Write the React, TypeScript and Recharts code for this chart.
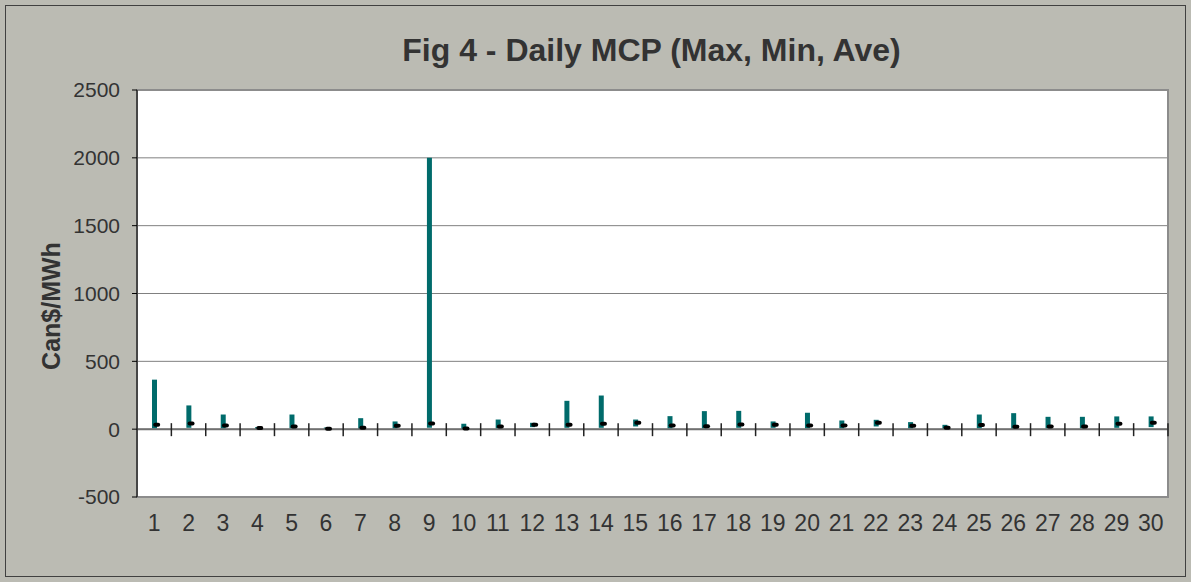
import React from 'react';
import { ComposedChart, Bar, Line, XAxis, YAxis, CartesianGrid, ReferenceLine, ReferenceArea } from 'recharts';

const days = ['1','2','3','4','5','6','7','8','9','10','11','12','13','14','15','16','17','18','19','20','21','22','23','24','25','26','27','28','29','30'];
const maxPrice = [365,175,108,15,108,12,81,57,2000,40,71,47,209,248,71,96,133,135,57,121,64,69,52,32,108,118,91,91,94,94];
const minPrice = [5,10,5,0,5,-5,0,5,10,-5,5,15,10,10,20,5,5,10,10,5,5,20,5,0,5,0,5,5,10,15];
const avePrice = [32,42,27,8,20,3,10,25,42,5,20,32,32,40,47,27,22,35,32,27,27,47,25,10,30,18,20,20,40,47];
const yTicks = [-500,0,500,1000,1500,2000,2500];

const data = days.map((d, i) => ({ day: d, range: [minPrice[i], maxPrice[i]], ave: avePrice[i] }));

const W = 1191;
const H = 582;
const FONT = 'Arial, "Liberation Sans", sans-serif';

const ZeroLine = (p: any) => {
  const { x1, x2, y1 } = p;
  const n = data.length;
  const step = (x2 - x1) / n;
  const ticks = [];
  for (let i = 1; i <= n; i++) {
    const x = x1 + i * step;
    ticks.push(<line key={i} x1={x} x2={x} y1={y1 - 6} y2={y1 + 7} stroke="#222" strokeWidth={1.5} />);
  }
  return (
    <g>
      <line x1={x1} x2={x2} y1={y1} y2={y1} stroke="#707070" strokeWidth={2} />
      {ticks}
    </g>
  );
};

const AveDot = (p: any) => {
  const { cx, cy, index } = p;
  if (cx == null || cy == null) return <g key={index} />;
  return <rect key={index} x={cx - 1} y={cy - 2} width={7} height={4} rx={2} ry={2} fill="#000" />;
};

export default function App() {
  return (
    <div style={{ position: 'absolute', left: 0, top: 0, width: W, height: H, background: '#BBBBB3', fontFamily: FONT }}>
      <div style={{ position: 'absolute', left: 5, top: 5, width: W - 12, height: H - 12, border: '1px solid #404040' }} />
      <div style={{ position: 'absolute', left: 0, top: 31, width: 1303, textAlign: 'center', fontSize: 32, fontWeight: 'bold', color: '#333', lineHeight: '38px' }}>
        Fig 4 - Daily MCP (Max, Min, Ave)
      </div>
      <div style={{ position: 'absolute', left: 51, top: 306, width: 0, height: 0 }}>
        <div style={{ position: 'absolute', left: -100, top: -15, width: 200, textAlign: 'center', transform: 'rotate(-90deg)', fontSize: 25, fontWeight: 'bold', color: '#333', lineHeight: '30px' }}>
          Can$/MWh
        </div>
      </div>
      <div style={{ position: 'absolute', left: 0, top: 0 }}>
        <ComposedChart width={W} height={H} data={data} margin={{ top: 90, right: 23, bottom: 55, left: 77 }} barCategoryGap={0}>
          <CartesianGrid vertical={false} stroke="#808080" fill="#FFFFFF" fillOpacity={1} />
          <ReferenceArea y1={-500} y2={2500} fill="none" stroke="#8C8C8C" strokeWidth={2} ifOverflow="visible" />
          <XAxis dataKey="day" axisLine={false} tickLine={false} tickMargin={12} interval={0}
            tick={{ fontSize: 23, fill: '#333', fontFamily: FONT }} />
          <YAxis domain={[-500, 2500]} ticks={yTicks} width={60} tickSize={5} tickMargin={12}
            axisLine={{ stroke: '#000' }} tickLine={{ stroke: '#000' }}
            tick={{ fontSize: 21, fill: '#333', fontFamily: FONT }} allowDataOverflow />
          <ReferenceLine y={0} shape={ZeroLine} />
          <Bar dataKey="range" fill="#006B6B" barSize={5} isAnimationActive={false} />
          <Line dataKey="ave" stroke="none" dot={AveDot} activeDot={false} isAnimationActive={false} legendType="none" />
        </ComposedChart>
      </div>
    </div>
  );
}
